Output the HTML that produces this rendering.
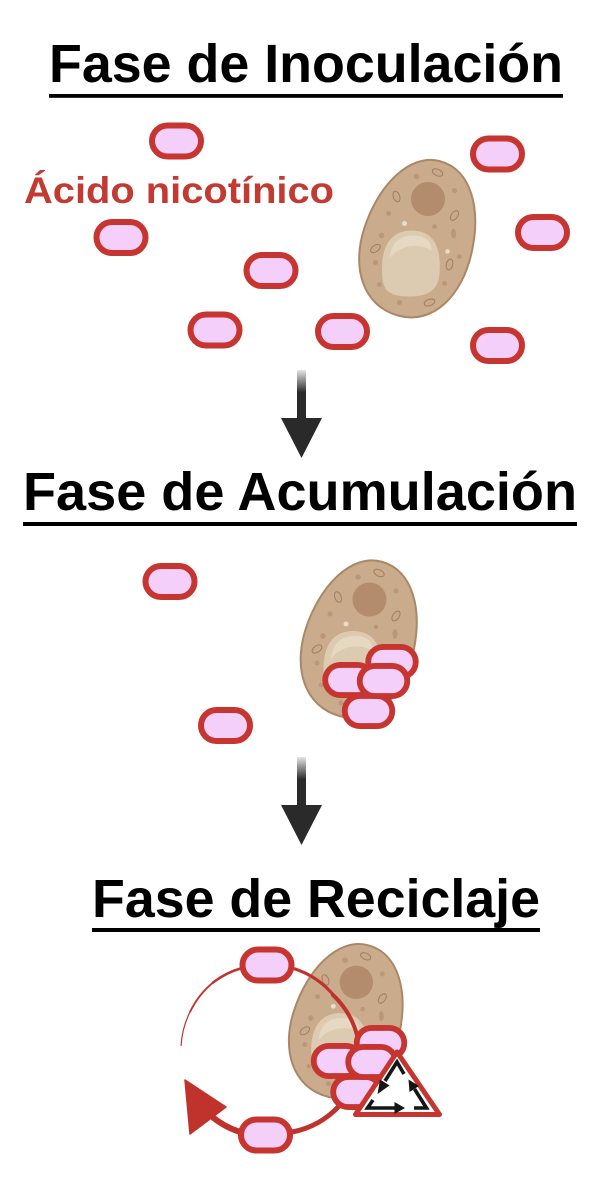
<!DOCTYPE html>
<html>
<head>
<meta charset="utf-8">
<style>
  html,body{margin:0;padding:0;background:#fff;}
  svg{display:block;}
  text{font-family:"Liberation Sans",Arial,sans-serif;font-weight:bold;}
</style>
</head>
<body>
<svg width="607" height="1180" viewBox="0 0 607 1180" xmlns="http://www.w3.org/2000/svg">
  <defs>
    <g id="bac">
      <rect x="-24.5" y="-15.5" width="49" height="31" rx="15.5" ry="15.5" fill="#f3cffa" stroke="#c6352f" stroke-width="6"/>
    </g>
    <linearGradient id="shaft" x1="0" y1="0" x2="0" y2="1">
      <stop offset="0" stop-color="#e6e6e6"/>
      <stop offset="0.45" stop-color="#2a2a2a"/>
      <stop offset="1" stop-color="#2a2a2a"/>
    </linearGradient>
    <g id="cell">
      <g transform="rotate(15)">
        <path d="M 0,-80 C 32,-80 52,-45 54,0 C 56,45 35,80 0,80 C -38,80 -58,45 -56,5 C -54,-40 -32,-80 0,-80 Z" fill="#caab8b" stroke="#a98767" stroke-width="2"/>
      </g>
      <circle cx="8.5" cy="-39.5" r="17" fill="#b38b6d"/>
      <path d="M -37,40 C -40,10 -30,-8 -8,-8 C 15,-8 22,10 20,35 C 19,52 8,58 -10,58 C -30,58 -36,52 -37,40 Z" fill="#dccbb0"/>
      <path d="M -30,20 C -28,2 -18,-3 -6,-3 C 8,-3 12,5 12,12 C 0,4 -20,6 -30,20 Z" fill="#e6d9c4"/>
      <!-- dots -->
      <g fill="#b9977a">
        <circle cx="-3" cy="-62" r="2.8"/>
        <circle cx="35" cy="-48" r="2.5"/>
        <circle cx="-31" cy="-25" r="2.5"/>
        <circle cx="15" cy="-12" r="2.3"/>
        <ellipse cx="34" cy="-5" rx="2.5" ry="5"/>
        <circle cx="-38" cy="-3" r="2.8"/>
        <circle cx="-44" cy="24" r="2.5"/>
        <circle cx="40" cy="18" r="2.3"/>
        <circle cx="25" cy="45" r="2.5"/>
        <circle cx="-40" cy="46" r="2.3"/>
        <circle cx="-20" cy="64" r="2.5"/>
      </g>
      <g fill="#e8dccb">
        <circle cx="-15" cy="-15" r="2.5"/>
        <circle cx="28" cy="13" r="2.3"/>
      </g>
      <!-- mitochondria -->
      <g fill="#c9a98a" stroke="#9f7f64" stroke-width="1">
        <ellipse cx="18" cy="-66" rx="5.5" ry="3.2" transform="rotate(25 18 -66)"/>
        <ellipse cx="-23" cy="-42" rx="5.5" ry="3.2" transform="rotate(70 -23 -42)"/>
        <ellipse cx="35" cy="-23" rx="5.5" ry="3.2" transform="rotate(-55 35 -23)"/>
        <ellipse cx="-44" cy="10" rx="5.5" ry="3.2" transform="rotate(-35 -44 10)"/>
        <ellipse cx="30" cy="26" rx="5.5" ry="3.2" transform="rotate(-75 30 26)"/>
        <ellipse cx="10" cy="64" rx="5.5" ry="3.2" transform="rotate(-20 10 64)"/>
      </g>
    </g>
  </defs>

  <rect width="607" height="1180" fill="#fff"/>

  <!-- ===== Phase 1 ===== -->
  <text x="49" y="82" font-size="54" fill="#000" textLength="514" lengthAdjust="spacingAndGlyphs">Fase de Inoculación</text>
  <rect x="49" y="94" width="514" height="3.8" fill="#000"/>

  <text x="24" y="203" font-size="37" fill="#c23a32" textLength="310" lengthAdjust="spacingAndGlyphs">Ácido nicotínico</text>

  <use href="#cell" transform="translate(419.5,238.5)"/>

  <use href="#bac" transform="translate(176.5,141)"/>
  <use href="#bac" transform="translate(121,237.5)"/>
  <use href="#bac" transform="translate(271,270.5)"/>
  <use href="#bac" transform="translate(215,330)"/>
  <use href="#bac" transform="translate(342.5,331.5)"/>
  <use href="#bac" transform="translate(497.5,154)"/>
  <use href="#bac" transform="translate(542.5,232.5)"/>
  <use href="#bac" transform="translate(497.5,345.5)"/>

  <!-- Arrow 1 -->
  <rect x="297" y="370" width="9" height="50" fill="url(#shaft)"/>
  <polygon points="281,418 322,418 301.5,458" fill="#2a2a2a"/>

  <!-- ===== Phase 2 ===== -->
  <text x="23" y="510" font-size="54" fill="#000" textLength="554" lengthAdjust="spacingAndGlyphs">Fase de Acumulación</text>
  <rect x="23" y="522" width="554" height="4" fill="#000"/>

  <use href="#bac" transform="translate(170,581.5)"/>
  <use href="#bac" transform="translate(225.5,725.5)"/>

  <use href="#cell" transform="translate(361,639)"/>

  <use href="#bac" transform="translate(392,662) scale(0.97)"/>
  <use href="#bac" transform="translate(368.5,711) scale(0.97)"/>
  <use href="#bac" transform="translate(349,680) scale(0.97)"/>
  <use href="#bac" transform="translate(383.5,681) scale(0.97)"/>

  <!-- Arrow 2 -->
  <rect x="297" y="757" width="9" height="50" fill="url(#shaft)"/>
  <polygon points="281,805 322,805 301.5,845" fill="#2a2a2a"/>

  <!-- ===== Phase 3 ===== -->
  <text x="92" y="917" font-size="54" fill="#000" textLength="448" lengthAdjust="spacingAndGlyphs">Fase de Reciclaje</text>
  <rect x="92" y="928" width="448" height="4" fill="#000"/>

  <use href="#cell" transform="translate(348,1021) scale(0.98)"/>

  <!-- cycle arcs: center (267,1050) r 86 -->
  <g fill="none" stroke="#c0322c" stroke-linecap="round">
    <path d="M 181.1,1045.5 A 86 86 0 0 1 191,1010" stroke-width="1.2"/>
    <path d="M 190,1012 A 86 86 0 0 1 215,981" stroke-width="1.8"/>
    <path d="M 213,982.5 A 86 86 0 0 1 242,968" stroke-width="2.5"/>
    <path d="M 292,968 A 86 86 0 0 1 335,997" stroke-width="3.2"/>
    <path d="M 333,995 A 86 86 0 0 1 357,1035" stroke-width="4"/>
    <path d="M 340,1105 A 86 86 0 0 1 292,1132" stroke-width="5"/>
    <path d="M 240,1132 A 86 86 0 0 1 210,1115" stroke-width="6"/>
  </g>
  <polygon points="185,1080 226,1107 190,1134" fill="#c0322c" stroke="#c0322c" stroke-width="1.5" stroke-linejoin="round"/>

  <use href="#bac" transform="translate(267,965)"/>
  <use href="#bac" transform="translate(265.5,1135)"/>

  <use href="#bac" transform="translate(380.5,1043) scale(0.97)"/>
  <use href="#bac" transform="translate(357,1092) scale(0.97)"/>
  <use href="#bac" transform="translate(337.5,1061) scale(0.97)"/>
  <use href="#bac" transform="translate(372,1062) scale(0.97)"/>

  <!-- recycling triangle -->
  <polygon points="397,1052 355.5,1114.5 439.5,1114.5" fill="#fff" stroke="#c6352f" stroke-width="5" stroke-linejoin="round"/>
  <g fill="none" stroke="#151515" stroke-width="3.6" stroke-linejoin="miter">
    <polyline points="404,1074 397,1062 385,1081"/>
    <polyline points="373,1100 367.5,1108 395,1108"/>
    <polyline points="414,1108 426.5,1108 414.5,1089"/>
  </g>
  <g fill="#151515">
    <polygon points="377.5,1094 389.5,1085.5 380,1079.5"/>
    <polygon points="405,1108 394.5,1102 394.5,1114"/>
    <polygon points="408.5,1079.5 409.5,1092 419,1086"/>
  </g>
</svg>
</body>
</html>
